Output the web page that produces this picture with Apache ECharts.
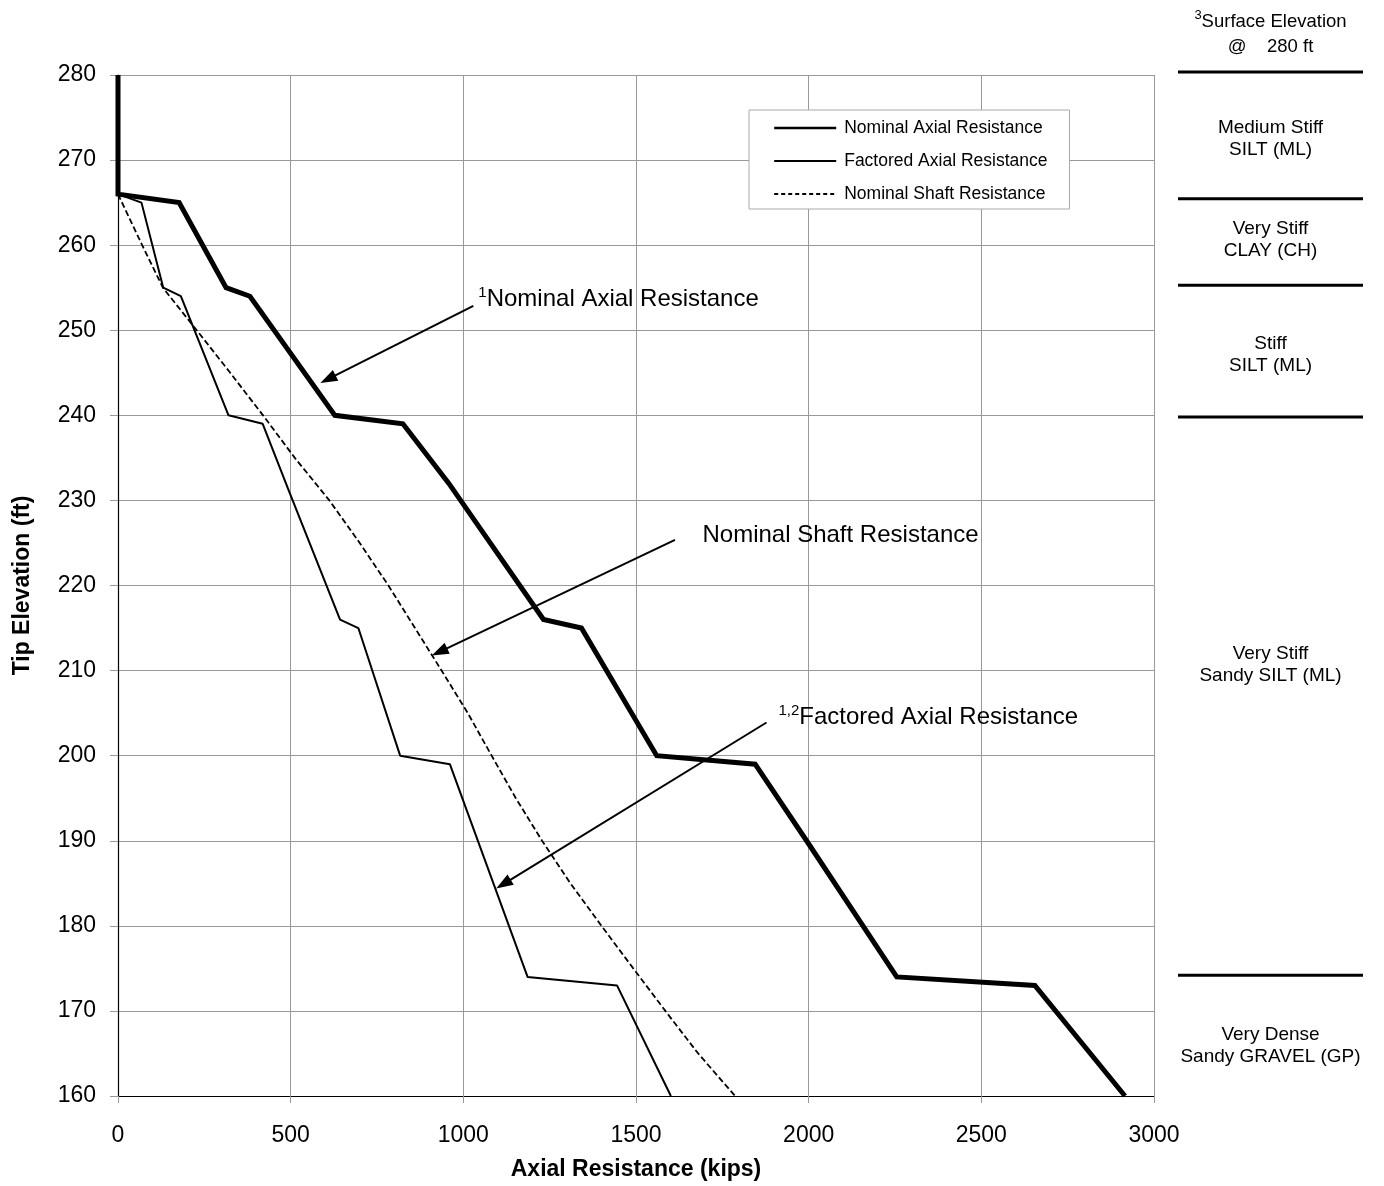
<!DOCTYPE html>
<html>
<head>
<meta charset="utf-8">
<script src="https://cdn.jsdelivr.net/npm/echarts@6/dist/echarts.min.js"></script>
<style>
  html, body { margin: 0; padding: 0; background: #fff; }
  #chart { width: 1384px; height: 1186px; }
</style>
</head>
<body>
<div id="chart"></div>
<script>
// ---- data (kips vs tip elevation ft) ----
const elevNominal   = [280, 266, 265, 255, 254, 240, 239, 232, 216, 215, 200, 199, 190, 174, 173, 160];
const nominalAxial  = [0,   0,   177, 313, 382, 628, 825, 958, 1232, 1342, 1560, 1845, 1994, 2255, 2655, 2916];

const elevFactored  = [280, 266, 265, 255, 254, 240, 239, 231, 216, 215, 200, 199, 174, 173, 160];
const factoredAxial = [0,   0,   68,  131, 182, 320, 419, 496, 643, 696, 817, 961, 1186, 1445, 1601];

const elevShaft     = [266, 260, 255, 250, 245, 240, 235, 230, 225, 220, 215, 210, 205, 200, 195, 190, 185, 180, 175, 170, 165, 160];
const nominalShaft  = [0,   70,  130, 228, 325, 420, 512, 612, 700, 783, 860, 937, 1013, 1082, 1152, 1228, 1310, 1400, 1492, 1585, 1680, 1787];

const seriesNames = ['Nominal Axial Resistance', 'Factored Axial Resistance', 'Nominal Shaft Resistance'];

const xTicks = { min: 0, max: 3000, interval: 500 };
const yTicks = { min: 160, max: 280, interval: 10 };

// soil profile (right panel)
const layerBoundaries = [280.35, 265.5, 255.4, 239.95, 174.6];
const layerLabels = [
  { elev: 272.5, text: 'Medium Stiff\nSILT (ML)' },
  { elev: 260.7, text: 'Very Stiff\nCLAY (CH)' },
  { elev: 247.2, text: 'Stiff\nSILT (ML)' },
  { elev: 211.0, text: 'Very Stiff\nSandy SILT (ML)' },
  { elev: 166.3, text: 'Very Dense\nSandy GRAVEL (GP)' }
];
const surfaceElevation = 280;

// callouts (data coordinates)
const callouts = [
  { sup: '1',   text: 'Nominal Axial Resistance',  tx: 1042, ty: 253.65, from: [1029, 252.87], to: [608, 244.25] },
  { sup: '',    text: 'Nominal Shaft Resistance',  tx: 1691, ty: 225.9, from: [1613, 225.37], to: [931, 212.2] },
  { sup: '1,2', text: 'Factored Axial Resistance', tx: 1911, ty: 204.55, from: [1878, 203.9], to: [1116, 184.9] }
];

const pair = (xs, ys) => xs.map((x, i) => [x, ys[i]]);
const FONT = 'Liberation Sans, Arial, Helvetica, sans-serif';
const TXT = '#000';

const chart = echarts.init(document.getElementById('chart'), null, { renderer: 'canvas' });

const baseLine = {
  type: 'line', showSymbol: false, symbol: 'none', clip: false, animation: false,
  xAxisIndex: 0, yAxisIndex: 0, itemStyle: { color: '#000' }
};

const hiddenPoint = { color: 'transparent', opacity: 1 };

const series = [
  Object.assign({}, baseLine, {
    name: seriesNames[1], data: pair(factoredAxial, elevFactored), z: 3,
    lineStyle: { color: '#000', width: 2 }
  }),
  Object.assign({}, baseLine, {
    name: seriesNames[2], data: pair(nominalShaft, elevShaft), z: 3,
    lineStyle: { color: '#000', width: 1.8, type: [6, 3] }
  }),
  Object.assign({}, baseLine, {
    name: seriesNames[0], data: pair(nominalAxial, elevNominal), z: 4,
    lineStyle: { color: '#000', width: 5, join: 'miter' }
  }),
  {
    type: 'scatter', name: 'callouts', xAxisIndex: 0, yAxisIndex: 0, clip: false,
    symbolSize: 1, itemStyle: hiddenPoint, silent: true, animation: false, z: 6,
    data: callouts.map(c => ({ value: [c.tx, c.ty], sup: c.sup, txt: c.text })),
    label: {
      show: true, position: 'right', distance: 0, color: TXT, opacity: 1,
      formatter: p => (p.data.sup ? '{s|' + p.data.sup + '}' : '') + '{t|' + p.data.txt + '}',
      rich: {
        s: { fontFamily: FONT, fontSize: 15, color: TXT, verticalAlign: 'top', lineHeight: 15 },
        t: { fontFamily: FONT, fontSize: 24, color: TXT, lineHeight: 28 }
      }
    },
    markLine: {
      silent: true, animation: false,
      symbol: ['none', 'triangle'], symbolSize: [12, 17],
      lineStyle: { color: '#000', width: 2, type: 'solid', opacity: 1 },
      itemStyle: { color: '#000', opacity: 1 },
      label: { show: false },
      data: callouts.map(c => [{ coord: c.from }, { coord: c.to }])
    }
  }
];

// soil layer boundaries in right panel
layerBoundaries.forEach(e => {
  series.push({
    type: 'line', xAxisIndex: 1, yAxisIndex: 1, showSymbol: false, symbol: 'none',
    clip: false, animation: false, silent: true,
    data: [[0, e], [1, e]],
    lineStyle: { color: '#000', width: 3 }
  });
});
series.push({
  type: 'scatter', xAxisIndex: 1, yAxisIndex: 1, clip: false, silent: true, animation: false,
  symbolSize: 1, itemStyle: hiddenPoint,
  data: layerLabels.map(l => ({ value: [0.5, l.elev], name: l.text })),
  label: {
    show: true, position: 'inside', formatter: '{b}', color: TXT, opacity: 1, textBorderWidth: 0,
    fontFamily: FONT, fontSize: 19, lineHeight: 22, align: 'center'
  }
});
series.push({
  type: 'scatter', xAxisIndex: 1, yAxisIndex: 1, clip: false, silent: true, animation: false,
  symbolSize: 1, itemStyle: hiddenPoint,
  data: [{ value: [0.5, 284.8], name: String(surfaceElevation) }],
  label: {
    show: true, position: 'inside', align: 'center', color: TXT, opacity: 1, textBorderWidth: 0,
    formatter: p => '{s|3}{t|Surface Elevation}\n{t|@    ' + p.name + ' ft}',
    rich: {
      s: { fontFamily: FONT, fontSize: 13, color: TXT, verticalAlign: 'top', lineHeight: 13 },
      t: { fontFamily: FONT, fontSize: 18.5, color: TXT, lineHeight: 25 }
    }
  }
});

const option = {
  animation: false,
  backgroundColor: '#fff',
  textStyle: { fontFamily: FONT },
  grid: [
    { left: 118, right: 230, top: 75, bottom: 86 },
    { left: 1178, width: 185, top: 75, bottom: 86 }
  ],
  legend: {
    left: 749, top: 110, orient: 'vertical', selectedMode: false,
    backgroundColor: '#fff', borderColor: '#aaa', borderWidth: 1,
    padding: [8, 22, 5, 24], itemWidth: 62, itemHeight: 14, itemGap: 13,
    itemStyle: { opacity: 0 },
    textStyle: { fontFamily: FONT, fontSize: 17.5, lineHeight: 20, color: TXT, padding: [0, 0, 0, 3] },
    data: [
      { name: seriesNames[0], lineStyle: { width: 2.4, color: '#000' }, itemStyle: { opacity: 0 } },
      { name: seriesNames[1], lineStyle: { width: 2, color: '#000' }, itemStyle: { opacity: 0 } },
      { name: seriesNames[2], lineStyle: { width: 2, color: '#000', type: [4, 3] }, itemStyle: { opacity: 0 } }
    ]
  },
  xAxis: [
    {
      type: 'value', gridIndex: 0, min: xTicks.min, max: xTicks.max, interval: xTicks.interval,
      name: 'Axial Resistance (kips)', nameLocation: 'middle', nameGap: 62,
      nameTextStyle: { fontFamily: FONT, fontSize: 23, fontWeight: 'bold', color: TXT },
      axisLine: { show: true, onZero: false, lineStyle: { color: '#000', width: 1.2 } },
      axisTick: { show: true, length: 7, lineStyle: { color: '#999' } },
      axisLabel: { fontFamily: FONT, fontSize: 23, color: TXT, margin: 28, formatter: v => String(v) },
      splitLine: { show: true, lineStyle: { color: '#999', width: 1 } }
    },
    { type: 'value', gridIndex: 1, min: 0, max: 1, show: false }
  ],
  yAxis: [
    {
      type: 'value', gridIndex: 0, min: yTicks.min, max: yTicks.max, interval: yTicks.interval,
      name: 'Tip Elevation (ft)', nameLocation: 'middle', nameGap: 84, nameRotate: 90,
      nameTextStyle: { fontFamily: FONT, fontSize: 23, fontWeight: 'bold', color: TXT },
      axisLine: { show: true, onZero: false, lineStyle: { color: '#000', width: 1.2 } },
      axisTick: { show: true, length: 8, lineStyle: { color: '#999' } },
      axisLabel: { fontFamily: FONT, fontSize: 23, color: TXT, margin: 22, formatter: v => String(v) },
      splitLine: { show: true, lineStyle: { color: '#999', width: 1 } }
    },
    { type: 'value', gridIndex: 1, min: yTicks.min, max: yTicks.max, show: false }
  ],
  series: series
};

chart.setOption(option);
</script>
</body>
</html>
